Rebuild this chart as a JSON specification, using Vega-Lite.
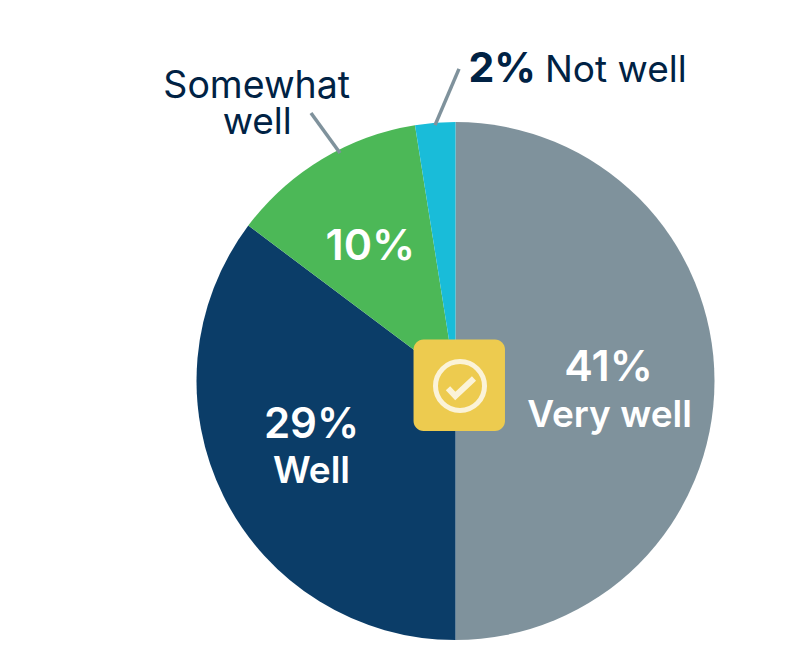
{"$schema":"https://vega.github.io/schema/vega-lite/v6.json","width":689,"height":572,"autosize":"none","padding":{"left":111,"top":95,"right":0,"bottom":0},"background":"#ffffff","view":{"stroke":null},"config":{"text":{"font":"Inter"}},"datasets":{"slices":[{"rank":1,"slice":"Very well","value":41,"pct":"41%"},{"rank":2,"slice":"Well","value":28.9,"pct":"29%"},{"rank":3,"slice":"Somewhat well","value":10.05,"pct":"10%"},{"rank":4,"slice":"Not well","value":2.05,"pct":"2%"}],"leaders":[{"slice":"Somewhat well","u":-0.558,"v":1.035,"u2":-0.446,"v2":0.88},{"slice":"Not well","u":0.0135,"v":1.205,"u2":-0.079,"v2":0.988}],"badge":[{"u":-0.162,"v":0.16,"u2":0.191,"v2":-0.193}],"ring":[{"u":0.0174,"v":-0.0193}],"tick":[{"step":1,"u":-0.029,"v":-0.0282},{"step":2,"u":-0.0007,"v":-0.0579},{"step":3,"u":0.0714,"v":0.0097}]},"resolve":{"scale":{"x":"shared","y":"shared"}},"layer":[{"data":{"name":"slices"},"transform":[{"stack":"value","groupby":[],"sort":[{"field":"rank","order":"ascending"}],"as":["s0","s1"]},{"calculate":"(datum.s0+datum.s1)/2","as":"mid"}],"layer":[{"mark":{"type":"arc","outerRadius":259},"encoding":{"theta":{"field":"s0","type":"quantitative","stack":null,"scale":{"domain":[0,82]}},"theta2":{"field":"s1"},"color":{"field":"slice","type":"nominal","legend":null,"scale":{"domain":["Very well","Well","Somewhat well","Not well"],"range":["#7f929c","#0b3d68","#4cb857","#19bcd9"]}}}},{"transform":[{"filter":"datum.slice==='Very well'"}],"layer":[{"mark":{"type":"text","radius":153,"dy":0,"align":"center","baseline":"alphabetic","fontSize":43,"fontWeight":600,"color":"#ffffff"},"encoding":{"theta":{"field":"mid","type":"quantitative","stack":null,"scale":{"domain":[0,82]}},"text":{"field":"pct"}}},{"mark":{"type":"text","radius":153,"dx":1,"dy":46,"align":"center","baseline":"alphabetic","fontSize":37,"fontWeight":600,"color":"#ffffff"},"encoding":{"theta":{"field":"mid","type":"quantitative","stack":null,"scale":{"domain":[0,82]}},"text":{"field":"slice"}}}]},{"transform":[{"filter":"datum.slice==='Well'"}],"layer":[{"mark":{"type":"text","radius":161,"dy":-14.6,"align":"center","baseline":"alphabetic","fontSize":42,"fontWeight":600,"color":"#ffffff"},"encoding":{"theta":{"field":"mid","type":"quantitative","stack":null,"scale":{"domain":[0,82]}},"text":{"field":"pct"}}},{"mark":{"type":"text","radius":161,"dx":0,"dy":30.5,"align":"center","baseline":"alphabetic","fontSize":37,"fontWeight":600,"color":"#ffffff"},"encoding":{"theta":{"field":"mid","type":"quantitative","stack":null,"scale":{"domain":[0,82]}},"text":{"field":"slice"}}}]},{"transform":[{"filter":"datum.slice==='Somewhat well'"}],"layer":[{"mark":{"type":"text","radius":161,"dx":-2,"dy":16.5,"align":"center","baseline":"alphabetic","fontSize":43,"fontWeight":600,"color":"#ffffff"},"encoding":{"theta":{"field":"mid","type":"quantitative","stack":null,"scale":{"domain":[0,82]}},"text":{"field":"pct"}}},{"mark":{"type":"text","radius":300,"dx":-44,"dy":-26,"align":"center","baseline":"alphabetic","fontSize":37.5,"fontWeight":400,"color":"#002244"},"encoding":{"theta":{"field":"mid","type":"quantitative","stack":null,"scale":{"domain":[0,82]}},"text":{"value":"Somewhat"}}},{"mark":{"type":"text","radius":300,"dx":-43.5,"dy":10,"align":"center","baseline":"alphabetic","fontSize":37,"fontWeight":400,"color":"#002244"},"encoding":{"theta":{"field":"mid","type":"quantitative","stack":null,"scale":{"domain":[0,82]}},"text":{"value":"well"}}}]},{"transform":[{"filter":"datum.slice==='Not well'"}],"layer":[{"mark":{"type":"text","radius":300,"dx":36.5,"dy":0,"align":"left","baseline":"alphabetic","fontSize":41,"fontWeight":700,"color":"#002244"},"encoding":{"theta":{"field":"mid","type":"quantitative","stack":null,"scale":{"domain":[0,82]}},"text":{"field":"pct"}}},{"mark":{"type":"text","radius":300,"dx":113,"dy":0,"align":"left","baseline":"alphabetic","fontSize":37,"fontWeight":400,"color":"#002244"},"encoding":{"theta":{"field":"mid","type":"quantitative","stack":null,"scale":{"domain":[0,82]}},"text":{"field":"slice"}}}]}]},{"data":{"name":"leaders"},"mark":{"type":"rule","color":"#7f929c","strokeWidth":3.5},"encoding":{"x":{"field":"u","type":"quantitative","axis":null,"scale":{"domain":[-1.3301,1.3301],"nice":false,"zero":false}},"x2":{"field":"u2"},"y":{"field":"v","type":"quantitative","axis":null,"scale":{"domain":[-1.1042,1.1042],"nice":false,"zero":false}},"y2":{"field":"v2"}}},{"data":{"name":"badge"},"mark":{"type":"rect","color":"#edcb4f","cornerRadius":10},"encoding":{"x":{"field":"u","type":"quantitative","axis":null,"scale":{"domain":[-1.3301,1.3301],"nice":false,"zero":false}},"x2":{"field":"u2"},"y":{"field":"v","type":"quantitative","axis":null,"scale":{"domain":[-1.1042,1.1042],"nice":false,"zero":false}},"y2":{"field":"v2"}}},{"data":{"name":"ring"},"mark":{"type":"point","shape":"circle","filled":false,"size":2401,"stroke":"#fbf3d8","strokeWidth":5,"opacity":1},"encoding":{"x":{"field":"u","type":"quantitative","axis":null,"scale":{"domain":[-1.3301,1.3301],"nice":false,"zero":false}},"y":{"field":"v","type":"quantitative","axis":null,"scale":{"domain":[-1.1042,1.1042],"nice":false,"zero":false}}}},{"data":{"name":"tick"},"mark":{"type":"line","color":"#fbf3d8","strokeWidth":6,"strokeJoin":"miter"},"encoding":{"x":{"field":"u","type":"quantitative","axis":null,"scale":{"domain":[-1.3301,1.3301],"nice":false,"zero":false}},"y":{"field":"v","type":"quantitative","axis":null,"scale":{"domain":[-1.1042,1.1042],"nice":false,"zero":false}},"order":{"field":"step"}}}]}
